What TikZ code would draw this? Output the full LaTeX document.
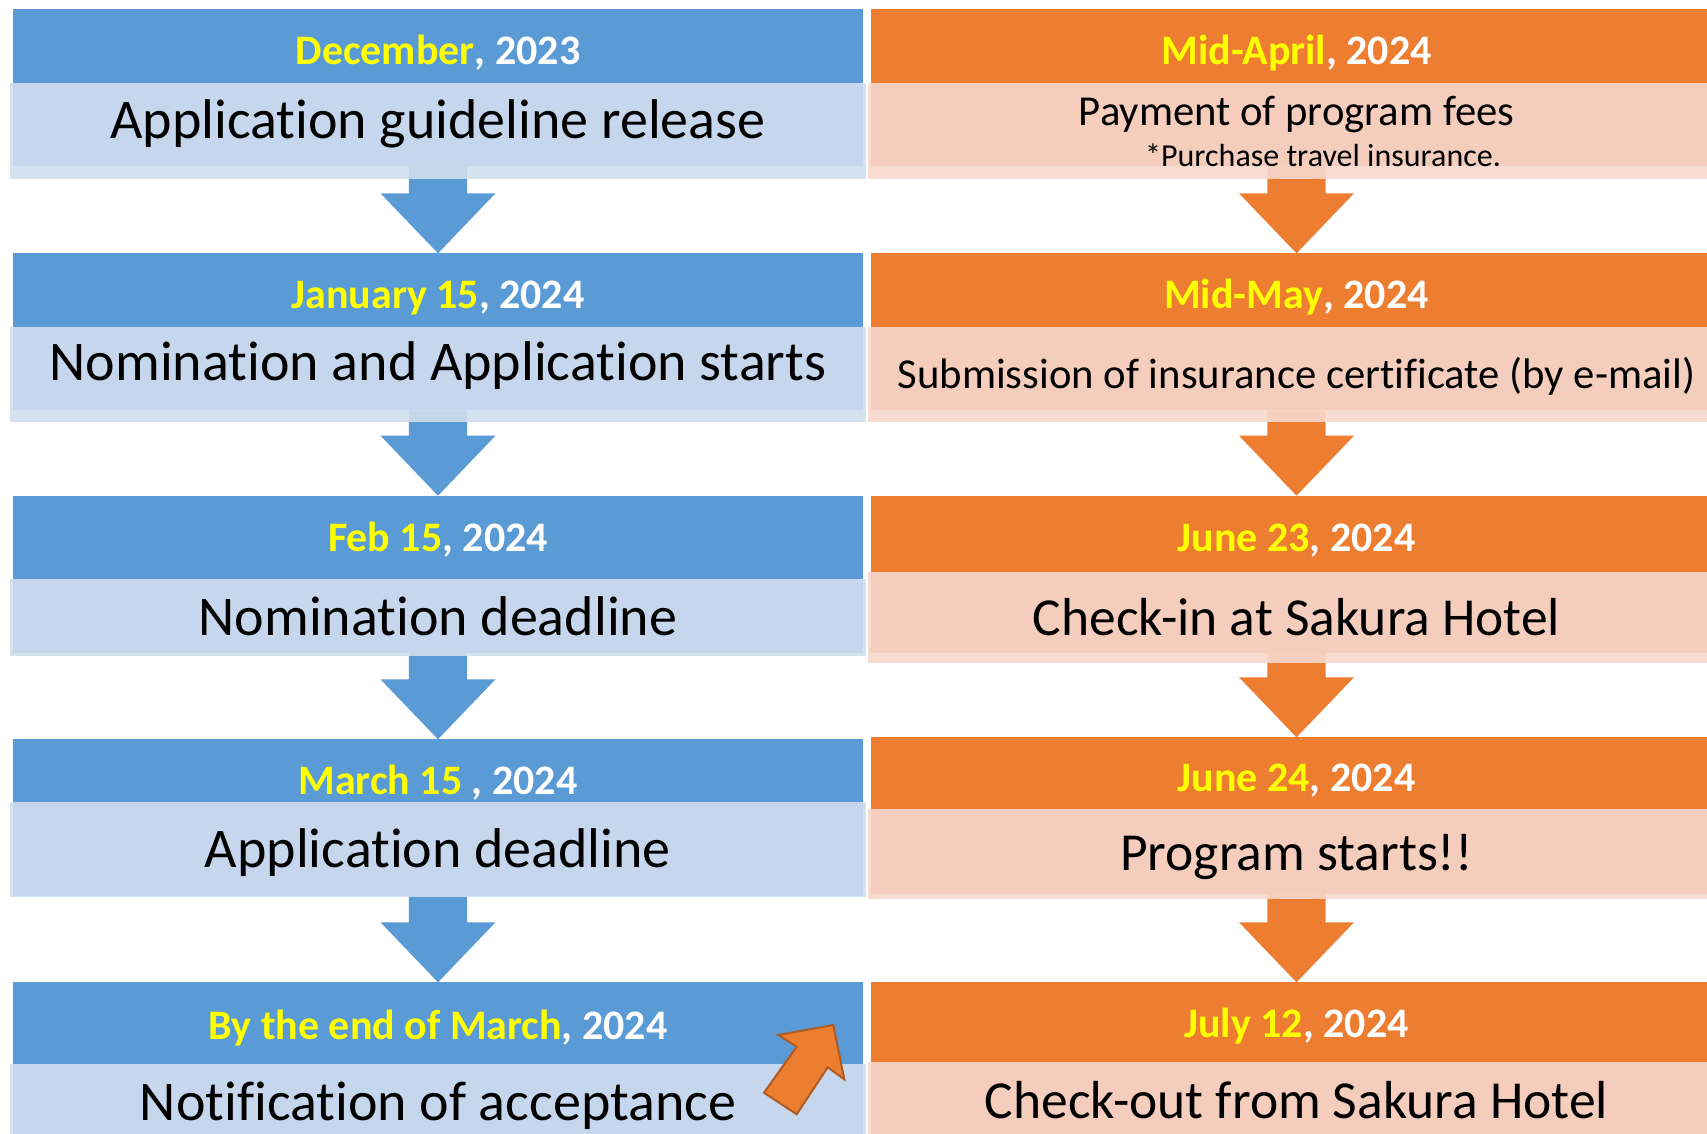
\documentclass[tikz,border=0pt]{standalone}
\usepackage{fontspec}
\setmainfont{Carlito}[Ligatures=NoCommon]
\usetikzlibrary{fit,calc}
\pgfdeclarelayer{bg}
\pgfsetlayers{bg,main}
\definecolor{blueH}{HTML}{5B9BD5}
\definecolor{blueB}{HTML}{C6D6EC}
\definecolor{blueS}{RGB}{209,223,238}
\definecolor{orH}{HTML}{ED7D31}
\definecolor{orB}{HTML}{F5CDBD}
\definecolor{orS}{RGB}{248,217,206}
\definecolor{orEdge}{HTML}{AE5A21}
\definecolor{yel}{HTML}{FFFF00}
\newcommand{\blkarrow}[3]{%
  \fill[#3] let \p1=(#1.south), \p2=(#2.north) in
   (\x2-29.2pt,\y1) -- (\x2+29.2pt,\y1) -- (\x2+29.2pt,\y2+60pt) -- (\x2+57.5pt,\y2+60pt)
   -- (\x2,\y2) -- (\x2-57.5pt,\y2+60pt) -- (\x2-29.2pt,\y2+60pt) -- cycle;}
\begin{document}
\begin{tikzpicture}[x=1pt,y=-1pt,
  box/.style={inner sep=0pt, outer sep=0pt, draw=none},
  hB/.style={box, fill=blueH},
  bB/.style={box, fill=blueB},
  sB/.style={box, fill=blueS, fill opacity=0.9},
  hO/.style={box, fill=orH},
  bO/.style={box, fill=orB},
  sO/.style={box, fill=orS, fill opacity=0.9},
  htxt/.style={anchor=base, inner sep=0pt, text=white, font=\fontsize{42}{50}\selectfont\bfseries},
  btxt/.style={anchor=base, inner sep=0pt, text=black, font=\fontsize{56}{66}\selectfont},
  rtxt/.style={anchor=base, inner sep=0pt, text=black, font=\fontsize{53.5}{64}\selectfont},
  stxt/.style={anchor=base, inner sep=0pt, text=black, font=\fontsize{42.7}{50}\selectfont},
  ntxt/.style={anchor=base, inner sep=0pt, text=black, font=\fontsize{32}{38}\selectfont},
  callout/.style={fill=orH, draw=orEdge, line width=2pt, line join=miter}]
\useasboundingbox (0,0) rectangle (1707,1134);
\clip (0,0) rectangle (1707,1134);

% ---------- left column ----------
\node[sB, fit={(10,83.3) (866,179)}] (sL1) {};
\node[bB, fit={(12.7,83.3) (863.3,166)}] (bL1) {};
\node[hB, fit={(12.7,9.3) (863.3,83.3)}] (hL1) {};

\node[sB, fit={(10,326.6) (866,422.4)}] (sL2) {};
\node[bB, fit={(12.7,326.6) (863.3,410.4)}] (bL2) {};
\node[hB, fit={(12.7,253.3) (863.3,326.6)}] (hL2) {};

\node[sB, fit={(10,579.3) (866,655.7)}] (sL3) {};
\node[bB, fit={(12.7,579.3) (863.3,652.7)}] (bL3) {};
\node[hB, fit={(12.7,495.7) (863.3,579.3)}] (hL3) {};

\node[sB, fit={(10,801.7) (866,897)}] (sL4) {};
\node[bB, fit={(12.7,801.7) (863.3,896)}] (bL4) {};
\node[hB, fit={(12.7,739.3) (863.3,801.7)}] (hL4) {};

\node[sB, fit={(10,1064.3) (866,1140)}] (sL5) {};
\node[bB, fit={(12.7,1064.3) (863.3,1140)}] (bL5) {};
\node[hB, fit={(12.7,982.3) (863.3,1064.3)}] (hL5) {};

% ---------- right column ----------
\node[sO, fit={(868.3,83.3) (1725,179)}] (sR1) {};
\node[bO, fit={(871,83.3) (1722,166)}] (bR1) {};
\node[hO, fit={(871,9.3) (1722,83.3)}] (hR1) {};

\node[sO, fit={(868.3,326.6) (1725,422.4)}] (sR2) {};
\node[bO, fit={(871,326.6) (1722,410.4)}] (bR2) {};
\node[hO, fit={(871,253.3) (1722,326.6)}] (hR2) {};

\node[sO, fit={(868.3,571.7) (1725,663)}] (sR3) {};
\node[bO, fit={(871,571.7) (1722,652.7)}] (bR3) {};
\node[hO, fit={(871,495.7) (1722,571.7)}] (hR3) {};

\node[sO, fit={(868.3,809.3) (1725,899)}] (sR4) {};
\node[bO, fit={(871,809.3) (1722,894)}] (bR4) {};
\node[hO, fit={(871,737.3) (1722,809.3)}] (hR4) {};

\node[sO, fit={(868.3,1062.3) (1725,1140)}] (sR5) {};
\node[bO, fit={(871,1062.3) (1722,1140)}] (bR5) {};
\node[hO, fit={(871,982.3) (1722,1062.3)}] (hR5) {};

% ---------- block arrows (behind) ----------
\begin{pgfonlayer}{bg}
  \fill[white] (0,0) rectangle (1707,1134);
  \blkarrow{bL1}{hL2}{blueH}
  \blkarrow{bL2}{hL3}{blueH}
  \blkarrow{bL3}{hL4}{blueH}
  \blkarrow{bL4}{hL5}{blueH}
  \blkarrow{bR1}{hR2}{orH}
  \blkarrow{bR2}{hR3}{orH}
  \blkarrow{bR3}{hR4}{orH}
  \blkarrow{bR4}{hR5}{orH}
\end{pgfonlayer}

% ---------- texts left ----------
\node[htxt] (tL1) at (438,65) {\textcolor{yel}{December}, 2023};
\node[btxt] (xL1) at (438,139) {Application guideline release};
\node[htxt] (tL2) at (438,308.5) {\textcolor{yel}{January 15}, 2024};
\node[btxt] (xL2) at (438,380.5) {Nomination and Application starts};
\node[htxt] (tL3) at (438,551.5) {\textcolor{yel}{Feb 15}, 2024};
\node[btxt] (xL3) at (438,635) {Nomination deadline};
\node[htxt] (tL4) at (438,794) {\textcolor{yel}{March 15 }, 2024};
\node[btxt] (xL4) at (438,867) {Application deadline};
\node[htxt] (tL5) at (438,1039) {\textcolor{yel}{By the end of March}, 2024};
\node[btxt] (xL5) at (438,1120.5) {Notification of acceptance};

% ---------- texts right ----------
\node[htxt] (tR1) at (1296.5,65) {\textcolor{yel}{Mid-April}, 2024};
\node[stxt] (xR1) at (1296.5,125.5) {Payment of program fees};
\node[ntxt] (nR1) at (1323,166.5) {*Purchase travel insurance.};
\node[htxt] (tR2) at (1296.5,308.5) {\textcolor{yel}{Mid-May}, 2024};
\node[stxt] (xR2) at (1296.5,388) {Submission of insurance certificate (by e-mail)};
\node[htxt] (tR3) at (1296.5,551.5) {\textcolor{yel}{June 23}, 2024};
\node[rtxt] (xR3) at (1296.5,635) {Check-in at Sakura Hotel};
\node[htxt] (tR4) at (1296.5,791.5) {\textcolor{yel}{June 24}, 2024};
\node[rtxt] (xR4) at (1296.5,870) {Program starts!!};
\node[htxt] (tR5) at (1296.5,1037.5) {\textcolor{yel}{July 12}, 2024};
\node[rtxt] (xR5) at (1296.5,1118.5) {Check-out from Sakura Hotel};

% ---------- callout arrow ----------
\draw[callout] (833.3,1025) -- (844.3,1079.3) -- (827.7,1067.3) -- (796.7,1114.3)
  -- (764,1092.7) -- (796.7,1046.7) -- (778.3,1035) -- cycle;
\end{tikzpicture}
\end{document}
